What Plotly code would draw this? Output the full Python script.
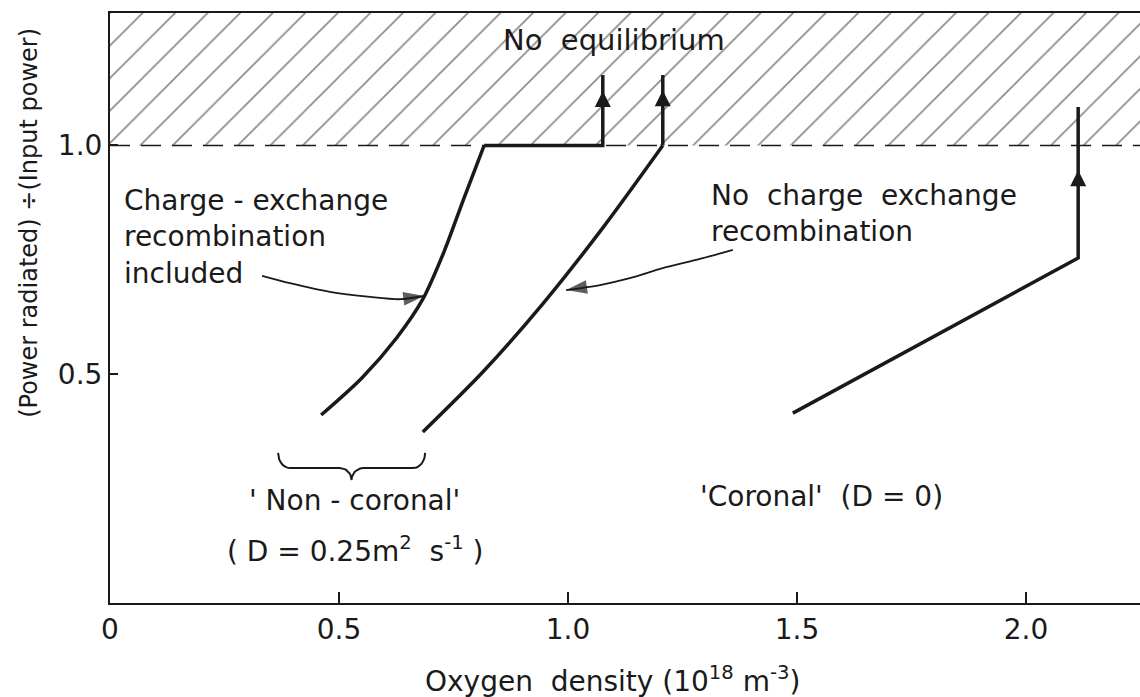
import numpy as np
import plotly.graph_objects as go

# Oxygen density (1e18 m^-3) against radiated fraction P_rad / P_in
# charge-exchange recombination included (non-coronal)
cx_density = [0.461, 0.550, 0.627, 0.683, 0.729, 0.773, 0.817]
cx_fraction = [0.411, 0.492, 0.581, 0.664, 0.767, 0.885, 1.000]
cx_runaway_density = [0.817, 1.076, 1.076]
cx_runaway_fraction = [1.000, 1.000, 1.154]

# no charge-exchange recombination (non-coronal)
nocx_density = [0.683, 0.814, 0.945, 1.076, 1.207]
nocx_fraction = [0.374, 0.505, 0.654, 0.820, 1.000]
nocx_runaway_density = [1.207, 1.207]
nocx_runaway_fraction = [1.000, 1.154]

# coronal (D = 0)
coronal_density = [1.491, 2.114, 2.114]
coronal_fraction = [0.415, 0.754, 1.084]

# arrowhead tips on the runaway branches
arrow_density = [1.076, 1.207, 2.114]
arrow_fraction = [1.119, 1.121, 0.946]

equilibrium_limit = 1.0

# label leader lines
pointer_cx_x = [0.332, 0.393, 0.480, 0.568, 0.633, 0.686]
pointer_cx_y = [0.715, 0.699, 0.680, 0.669, 0.664, 0.671]
pointer_nocx_x = [1.360, 1.288, 1.207, 1.135, 1.070, 0.996]
pointer_nocx_y = [0.772, 0.752, 0.732, 0.710, 0.695, 0.684]

# brace under the non-coronal curves
brace_span = [0.367, 0.688]
brace_level = 0.295

x_ticks = [0, 0.5, 1.0, 1.5, 2.0]
x_tick_labels = ["0", "0.5", "1.0", "1.5", "2.0"]
y_ticks = [0.5, 1.0]
y_tick_labels = ["0.5", "1.0"]

X_MAX = 2.249
Y_MAX = 1.2896
INK = "#1a1a1a"
FONT = "DejaVu Sans"


def brace_path(x0, x1, y, dx=0.026, dy_end=0.033, dy_mid=0.026, n=12):
    xm = 0.5 * (x0 + x1)
    xs, ys = [], []

    def arc(cx, cy, rx, ry, t0, t1):
        t = np.linspace(t0, t1, n)
        xs.extend(cx + rx * np.cos(t))
        ys.extend(cy + ry * np.sin(t))

    arc(x0 + dx, y + dy_end, dx, dy_end, np.pi, 1.5 * np.pi)
    arc(xm - dx, y - dy_mid, dx, dy_mid, 0.5 * np.pi, 0.0)
    arc(xm + dx, y - dy_mid, dx, dy_mid, np.pi, 0.5 * np.pi)
    arc(x1 - dx, y + dy_end, dx, dy_end, 1.5 * np.pi, 2.0 * np.pi)
    return xs, ys


fig = go.Figure()

# hatched "no equilibrium" region above the limit
fig.add_trace(go.Scatter(
    x=[0, X_MAX, X_MAX, 0, 0],
    y=[equilibrium_limit, equilibrium_limit, Y_MAX, Y_MAX, equilibrium_limit],
    mode="lines", fill="toself", line=dict(width=0),
    fillcolor="white",
    fillpattern=dict(shape="/", size=23, solidity=0.07, fgcolor="#111111", bgcolor="white"),
    hoverinfo="skip", showlegend=False,
))

# dashed limit line
fig.add_trace(go.Scatter(
    x=[0, X_MAX], y=[equilibrium_limit, equilibrium_limit],
    mode="lines", line=dict(color=INK, width=1.5, dash="20px,11px"),
    hoverinfo="skip", showlegend=False,
))

curve_style = dict(color=INK, width=3.5)
for xs, ys in [(cx_density, cx_fraction), (nocx_density, nocx_fraction)]:
    fig.add_trace(go.Scatter(x=xs, y=ys, mode="lines",
                             line=dict(curve_style, shape="spline", smoothing=0.8),
                             showlegend=False, hoverinfo="skip"))
for xs, ys in [(cx_runaway_density, cx_runaway_fraction),
               (nocx_runaway_density, nocx_runaway_fraction),
               (coronal_density, coronal_fraction)]:
    fig.add_trace(go.Scatter(x=xs, y=ys, mode="lines", line=curve_style,
                             showlegend=False, hoverinfo="skip"))

fig.add_trace(go.Scatter(
    x=arrow_density, y=arrow_fraction, mode="markers",
    marker=dict(symbol="arrow-up", size=16, color=INK, line=dict(width=0)),
    showlegend=False, hoverinfo="skip",
))

for px, py in [(pointer_cx_x, pointer_cx_y), (pointer_nocx_x, pointer_nocx_y)]:
    n = len(px)
    fig.add_trace(go.Scatter(
        x=px, y=py, mode="lines+markers",
        line=dict(color=INK, width=1.8, shape="spline", smoothing=0.8),
        marker=dict(symbol=["circle"] * (n - 1) + ["arrow"],
                    size=[0] * (n - 1) + [22], angleref="previous",
                    color=INK, line=dict(width=0)),
        showlegend=False, hoverinfo="skip",
    ))

bx, by = brace_path(brace_span[0], brace_span[1], brace_level)
fig.add_trace(go.Scatter(x=bx, y=by, mode="lines", line=dict(color=INK, width=2),
                         showlegend=False, hoverinfo="skip"))

text_font = dict(family=FONT, size=28, color=INK)
notes = [
    dict(x=1.100, y=1.231, text="No  equilibrium", xanchor="center",
         font=dict(family=FONT, size=29, color=INK)),
    dict(x=0.026, y=0.800, text="Charge - exchange<br>recombination<br>included",
         xanchor="left", align="left", font=text_font),
    dict(x=1.308, y=0.852, text="No  charge  exchange<br>recombination",
         xanchor="left", align="left", font=text_font),
    dict(x=0.533, y=0.225, text="' Non - coronal'", xanchor="center", font=text_font),
    dict(x=0.537, y=0.118, text="( D = 0.25m<sup>2</sup>  s<sup>-1</sup> )",
         xanchor="center", font=text_font),
    dict(x=1.553, y=0.232, text="'Coronal'  (D = 0)", xanchor="center", font=text_font),
]
for a in notes:
    fig.add_annotation(xref="x", yref="y", showarrow=False, yanchor="middle", **a)

fig.add_annotation(xref="x", yref="paper", x=1.098, y=-0.1305,
                   text="Oxygen  density (10<sup>18</sup> m<sup>-3</sup>)",
                   showarrow=False, yanchor="middle", xanchor="center", font=text_font)
fig.add_annotation(xref="paper", yref="y", x=-0.0786, y=0.831,
                   text="(Power radiated) \u00f7(Input power)", textangle=-90,
                   showarrow=False, xanchor="center", yanchor="middle",
                   font=dict(family=FONT, size=24, color=INK))

fig.update_xaxes(range=[0, X_MAX], tickvals=x_ticks, ticktext=x_tick_labels,
                 ticks="inside", ticklen=11, tickwidth=1.5, tickcolor=INK,
                 showline=True, linewidth=2, linecolor=INK, mirror=True,
                 showgrid=False, zeroline=False,
                 tickfont=dict(family=FONT, size=28, color=INK))
fig.update_yaxes(range=[0, Y_MAX], tickvals=y_ticks, ticktext=y_tick_labels,
                 ticks="inside", ticklen=8, tickwidth=1.5, tickcolor=INK,
                 showline=True, linewidth=2, linecolor=INK,
                 showgrid=False, zeroline=False,
                 tickfont=dict(family=FONT, size=28, color=INK))

fig.update_layout(width=1140, height=697,
                  margin=dict(l=110, r=0, t=13, b=94),
                  plot_bgcolor="white", paper_bgcolor="white",
                  showlegend=False)

fig.write_html("out.html")
